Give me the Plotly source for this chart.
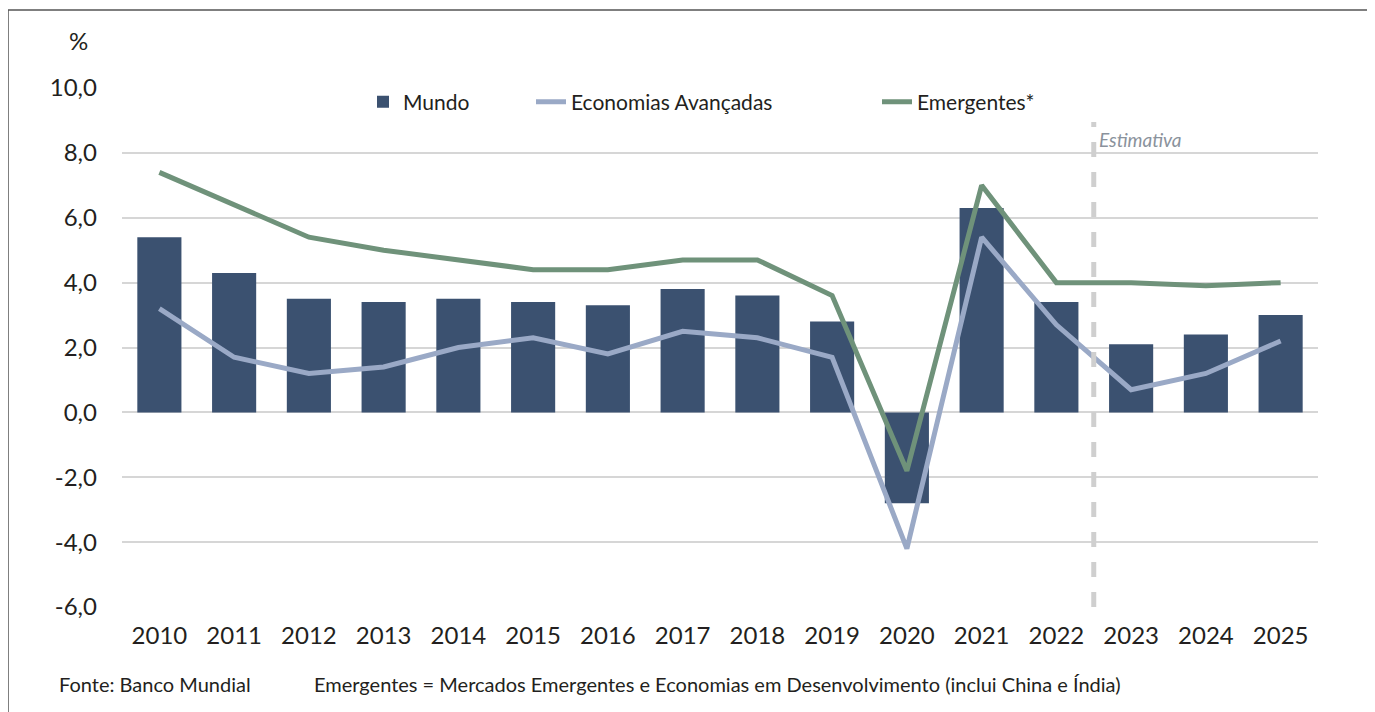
import plotly.graph_objects as go

years = [str(y) for y in range(2010, 2026)]
mundo = [5.4, 4.3, 3.5, 3.4, 3.5, 3.4, 3.3, 3.8, 3.6, 2.8, -2.8, 6.3, 3.4, 2.1, 2.4, 3.0]
avancadas = [3.2, 1.7, 1.2, 1.4, 2.0, 2.3, 1.8, 2.5, 2.3, 1.7, -4.2, 5.4, 2.7, 0.7, 1.2, 2.2]
emergentes = [7.4, 6.4, 5.4, 5.0, 4.7, 4.4, 4.4, 4.7, 4.7, 3.6, -1.8, 7.0, 4.0, 4.0, 3.9, 4.0]
y_ticks = [-6, -4, -2, 0, 2, 4, 6, 8, 10]
y_ticktext = [f"{v:.1f}".replace(".", ",") for v in y_ticks]

FONT = "Lato"
TXT = "#231f20"

fig = go.Figure()
fig.add_trace(go.Bar(x=years, y=mundo, name="Mundo", marker_color="#3b5170",
                     marker_line_width=0, width=0.59, legend="legend"))
fig.add_trace(go.Scatter(x=years, y=avancadas, name="Economias Avançadas", mode="lines",
                         line=dict(color="#9aa9c6", width=5), legend="legend2"))
fig.add_trace(go.Scatter(x=years, y=emergentes, name="Emergentes*", mode="lines",
                         line=dict(color="#6f927a", width=5), legend="legend3"))

OFF = 8  # browser body margin
W, H = 1375, 712
# desired plot area in page pixels
PL, PR, PT, PB = 122, 1318, 88, 607
L, T = PL - OFF, PT - OFF
R, B = W - (PR - OFF), H - (PB - OFF)
pw, ph = PR - PL, PB - PT

def px(x):
    return (x - PL) / pw

def py(y):
    return (PB - y) / ph

leg_common = dict(orientation="h", yanchor="middle", xanchor="left",
                  font=dict(size=21, color=TXT), bgcolor="rgba(0,0,0,0)")

fig.update_layout(
    width=W, height=H,
    margin=dict(l=L, r=R, t=T, b=B),
    paper_bgcolor="white", plot_bgcolor="white",
    font=dict(family=FONT, color=TXT, size=22),
    xaxis=dict(type="category", showgrid=False, ticks="", tickfont=dict(size=24),
               ticklabelstandoff=12, showline=False, zeroline=False,
               range=[-0.5, 15.5]),
    yaxis=dict(range=[-6, 10], tickvals=y_ticks, ticktext=y_ticktext,
               showgrid=True, gridcolor="#d6d6d6", gridwidth=1.5,
               zeroline=True, zerolinecolor="#d6d6d6", zerolinewidth=1.5,
               showline=False, ticks="", tickfont=dict(size=24),
               ticklabelstandoff=24),
    legend=dict(x=px(363), y=py(102), **leg_common),
    legend2=dict(x=px(531), y=py(102), **leg_common),
    legend3=dict(x=px(877), y=py(102), **leg_common),
    showlegend=True,
)

# Estimate divider
fig.add_shape(type="line", xref="x", yref="y", x0=12.5, x1=12.5, y0=-6, y1=8.95,
              line=dict(color="#cfcfcf", width=5, dash="dash"), layer="above")
fig.add_annotation(x=12.5, y=(PB - 139) / ph * 16 - 6, xref="x", yref="y",
                   text="<i>Estimativa</i>",
                   showarrow=False, xanchor="left", yanchor="middle", xshift=3,
                   font=dict(size=19, color="#8a929c", family=FONT))

# % label
fig.add_annotation(x=px(78), y=py(40), xref="paper", yref="paper", text="%",
                   showarrow=False, xanchor="center", yanchor="middle",
                   font=dict(size=24, color=TXT))

# Footnotes
fig.add_annotation(x=px(57), y=py(684), xref="paper", yref="paper", text="Fonte: Banco Mundial",
                   showarrow=False, xanchor="left", yanchor="middle",
                   font=dict(size=20, color=TXT))
fig.add_annotation(x=px(312), y=py(684), xref="paper", yref="paper",
                   text="Emergentes = Mercados Emergentes e Economias em Desenvolvimento (inclui China e Índia)",
                   showarrow=False, xanchor="left", yanchor="middle",
                   font=dict(size=20, color=TXT))

# Frame
fig.add_shape(type="rect", xref="paper", yref="paper",
              x0=px(8), x1=px(1369), y0=py(10), y1=py(716),
              line=dict(color="#555555", width=1.5), fillcolor="rgba(0,0,0,0)", layer="below")

fig.write_html("out.html")
